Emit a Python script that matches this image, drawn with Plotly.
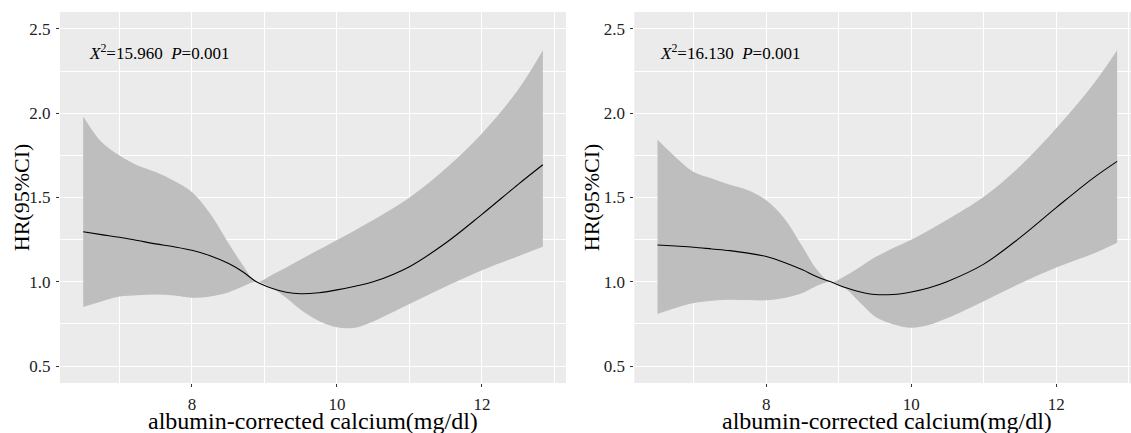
import plotly.graph_objects as go

# Calcium values at which the spline curves are drawn (mg/dl)
calcium = [6.5, 6.75, 7.0, 7.25, 7.5, 7.75, 8.0, 8.25, 8.5, 8.7, 8.89,
           9.1, 9.3, 9.5, 9.75, 10.0, 10.25, 10.5, 11.0, 11.5, 12.0, 12.5, 12.84]

# Model 1: hazard ratio with 95% CI
hr_1 = [1.297, 1.280, 1.264, 1.245, 1.225, 1.208, 1.187, 1.155, 1.110, 1.060, 1.000,
        0.962, 0.938, 0.929, 0.935, 0.952, 0.974, 1.000, 1.090, 1.230, 1.400, 1.578, 1.694]
upper_1 = [1.980, 1.830, 1.749, 1.690, 1.651, 1.600, 1.533, 1.405, 1.232, 1.100, 1.000,
           1.040, 1.085, 1.132, 1.190, 1.248, 1.306, 1.366, 1.500, 1.672, 1.880, 2.140, 2.373]
lower_1 = [0.851, 0.884, 0.913, 0.921, 0.925, 0.919, 0.906, 0.913, 0.937, 0.972, 1.000,
           0.965, 0.905, 0.835, 0.768, 0.730, 0.728, 0.765, 0.868, 0.972, 1.068, 1.152, 1.208]

# Model 2: hazard ratio with 95% CI
hr_2 = [1.218, 1.212, 1.205, 1.195, 1.185, 1.170, 1.150, 1.115, 1.071, 1.030, 1.000,
        0.965, 0.940, 0.925, 0.925, 0.940, 0.965, 1.002, 1.105, 1.262, 1.440, 1.612, 1.714]
upper_2 = [1.842, 1.739, 1.651, 1.612, 1.575, 1.543, 1.484, 1.376, 1.208, 1.071, 1.000,
           1.038, 1.090, 1.145, 1.200, 1.250, 1.308, 1.370, 1.505, 1.685, 1.910, 2.165, 2.373]
lower_2 = [0.809, 0.845, 0.874, 0.888, 0.894, 0.892, 0.890, 0.904, 0.933, 0.976, 1.000,
           0.957, 0.874, 0.795, 0.748, 0.727, 0.745, 0.785, 0.885, 0.990, 1.085, 1.165, 1.232]

stats_labels = ["<i>X</i><sup>2</sup>=15.960\u00a0 <i>P</i>=0.001",
                "<i>X</i><sup>2</sup>=16.130\u00a0 <i>P</i>=0.001"]

x_title = "albumin-corrected calcium(mg/dl)"
y_title = "HR(95%CI)"

W, H = 1131, 433
FONT = "Liberation Serif, Times New Roman, serif"
BAND = "#BEBEBE"

panels = [
    dict(hr=hr_1, up=upper_1, lo=lower_1, xa="x", ya="y"),
    dict(hr=hr_2, up=upper_2, lo=lower_2, xa="x2", ya="y2"),
]

fig = go.Figure()
for p in panels:
    fig.add_trace(go.Scatter(x=calcium, y=p["lo"], mode="lines",
                             line=dict(width=0, shape="spline"),
                             xaxis=p["xa"], yaxis=p["ya"], showlegend=False,
                             hoverinfo="skip"))
    fig.add_trace(go.Scatter(x=calcium, y=p["up"], mode="lines", fill="tonexty",
                             fillcolor=BAND, line=dict(width=0, shape="spline"),
                             xaxis=p["xa"], yaxis=p["ya"], showlegend=False,
                             hoverinfo="skip"))
    fig.add_trace(go.Scatter(x=calcium, y=p["hr"], mode="lines",
                             line=dict(color="black", width=1.1, shape="spline"),
                             xaxis=p["xa"], yaxis=p["ya"], showlegend=False))

# Panel geometry in pixels
top_px, bottom_px = 12, 383
panel_edges = [(60, 566), (634.3, 1131)]
px_per_unit = 72.5
x0 = 6.18

def fx(px):
    return px / W

def fy(py):
    return 1 - py / H

common_x = dict(tickmode="linear", tick0=0, dtick=2, ticks="outside", ticklen=3,
                tickwidth=1, tickcolor="#333333", showline=False, zeroline=False,
                gridcolor="white", gridwidth=1.1, ticklabelstandoff=3,
                minor=dict(dtick=1, tick0=0, showgrid=True, gridcolor="white", gridwidth=0.5),
                tickfont=dict(family=FONT, size=17, color="#222222"))
common_y = dict(range=[0.4, 2.6], tickmode="linear", tick0=0, dtick=0.5, tickformat=".1f",
                ticks="outside", ticklen=3, tickwidth=1, tickcolor="#333333",
                showline=False, zeroline=False, gridcolor="white", gridwidth=1.1,
                ticklabelstandoff=2,
                minor=dict(dtick=0.25, tick0=0, showgrid=True, gridcolor="white", gridwidth=0.5),
                tickfont=dict(family=FONT, size=17, color="#222222"))

ydom = [fy(bottom_px), fy(top_px)]
(l1, r1), (l2, r2) = panel_edges
fig.update_layout(
    xaxis=dict(domain=[fx(l1), fx(r1)], range=[x0, x0 + (r1 - l1) / px_per_unit],
               anchor="y", **common_x),
    yaxis=dict(domain=ydom, anchor="x", **common_y),
    xaxis2=dict(domain=[fx(l2), fx(r2)], range=[x0, x0 + (r2 - l2) / px_per_unit],
                anchor="y2", **common_x),
    yaxis2=dict(domain=ydom, anchor="x2", **common_y),
)

annotations = []
# Statistic labels inside each panel
for label, xpx in zip(stats_labels, [87.3, 658.3]):
    annotations.append(dict(text=label, x=fx(xpx), y=fy(51.7), xref="paper", yref="paper",
                            xanchor="left", yanchor="middle", showarrow=False,
                            font=dict(family=FONT, size=17, color="black")))
# Axis titles
for cx in [313, 887]:
    annotations.append(dict(text=x_title, x=fx(cx), y=fy(421), xref="paper", yref="paper",
                            xanchor="center", yanchor="middle", showarrow=False,
                            font=dict(family=FONT, size=24, color="black")))
for cx in [21.7, 591.7]:
    annotations.append(dict(text=y_title, x=fx(cx), y=fy((top_px + bottom_px) / 2),
                            xref="paper", yref="paper", textangle=-90,
                            xanchor="center", yanchor="middle", showarrow=False,
                            font=dict(family=FONT, size=22, color="black")))

fig.update_layout(
    width=W, height=H, margin=dict(l=0, r=0, t=0, b=0),
    paper_bgcolor="white", plot_bgcolor="#EBEBEB",
    annotations=annotations, showlegend=False,
)

fig.write_html("out.html")
